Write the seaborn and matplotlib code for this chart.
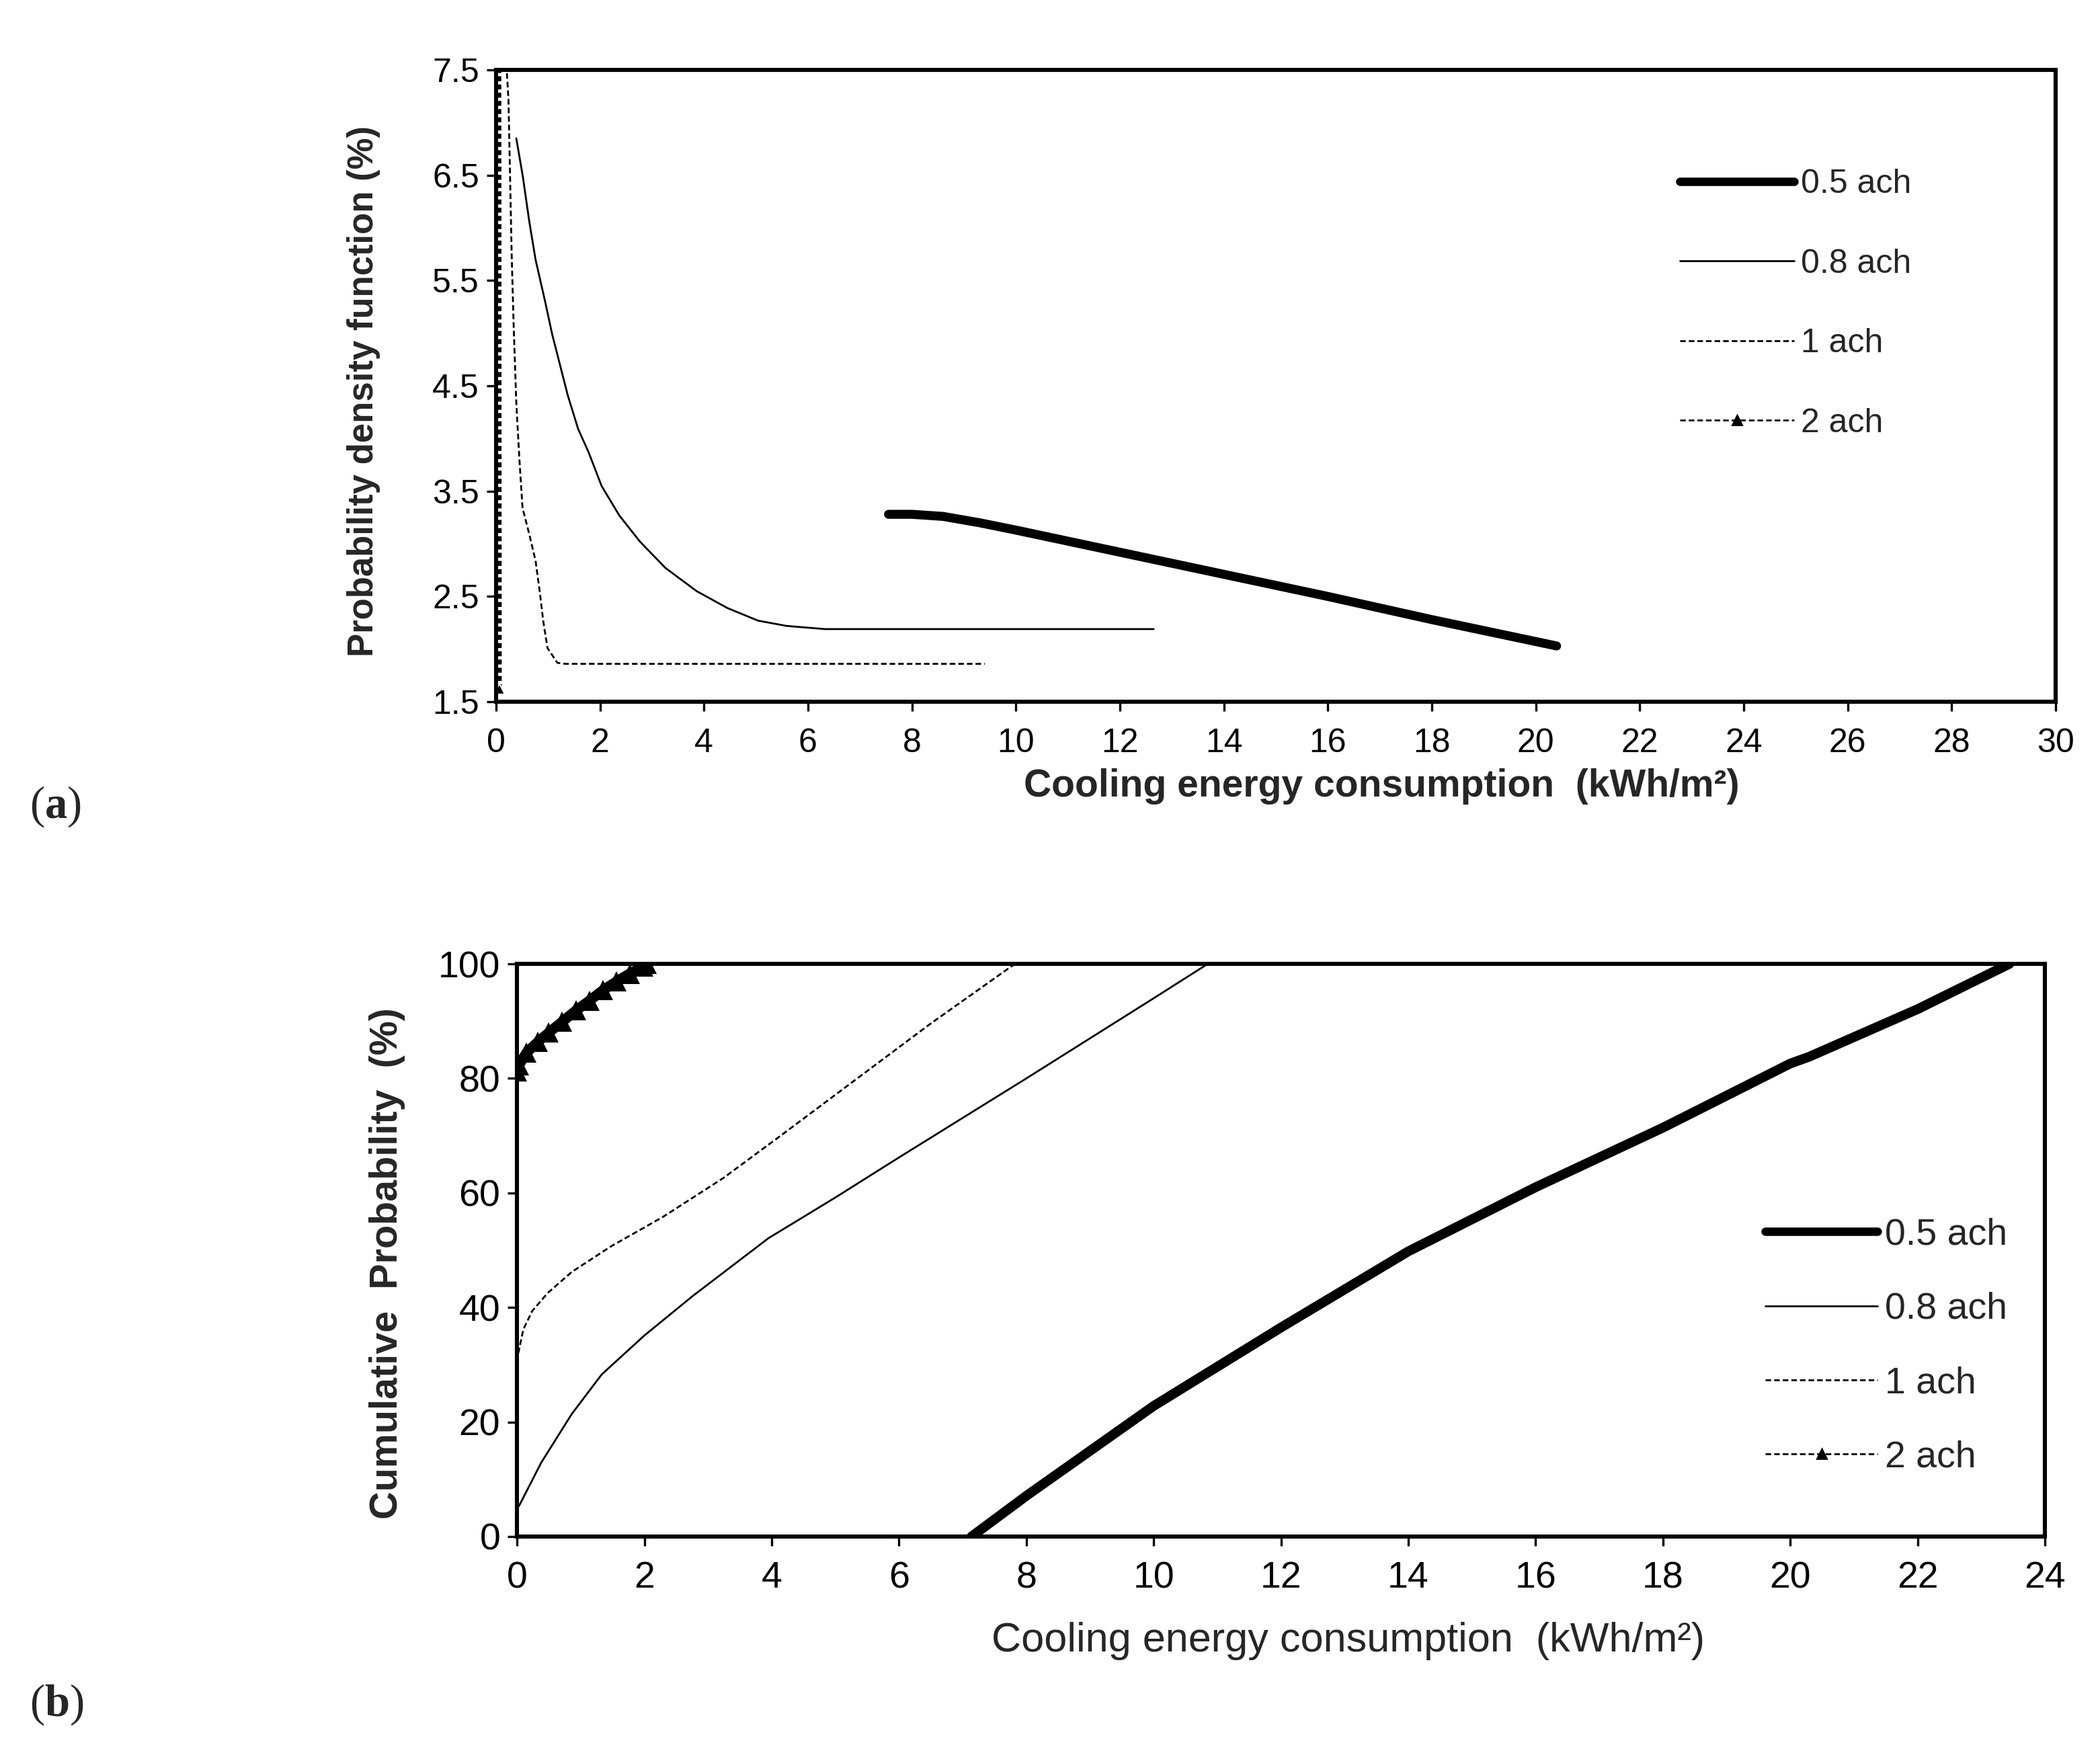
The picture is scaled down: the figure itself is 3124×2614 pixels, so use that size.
import matplotlib
matplotlib.use("Agg")
import matplotlib.pyplot as plt
from matplotlib.lines import Line2D
import seaborn as sns

# ---- panel (a): probability density function (%) ----
pdf_05_x = [7.55, 8.0, 8.6, 9.3, 10.0, 12.0, 14.0, 16.0, 18.0, 20.4]
pdf_05_y = [3.28, 3.28, 3.26, 3.20, 3.13, 2.92, 2.71, 2.50, 2.28, 2.03]

pdf_08_x = [0.39, 0.515, 0.64, 0.76, 0.94, 1.08, 1.23, 1.38, 1.58, 1.78, 2.03, 2.37,
            2.77, 3.26, 3.86, 4.45, 5.04, 5.59, 6.33, 7.62, 12.65]
pdf_08_y = [6.85, 6.49, 6.06, 5.70, 5.31, 4.99, 4.70, 4.41, 4.09, 3.87, 3.55, 3.27,
            3.02, 2.77, 2.55, 2.39, 2.27, 2.22, 2.19, 2.19, 2.19]

pdf_1_x = [0.20, 0.24, 0.27, 0.30, 0.34, 0.39, 0.45, 0.51, 0.64, 0.76, 0.84, 0.91,
           0.99, 1.18, 1.33, 9.40]
pdf_1_y = [7.55, 7.21, 6.49, 5.77, 5.06, 4.34, 3.80, 3.34, 3.09, 2.84, 2.55, 2.26,
           2.01, 1.87, 1.86, 1.86]

pdf_2_x = [0.07, 0.06]
pdf_2_y = [1.62, 9.0]

# ---- panel (b): cumulative probability (%) ----
cdf_05_x = [7.14, 8.0, 10.0, 12.0, 14.0, 16.0, 18.0, 20.0, 20.3, 22.0, 23.44]
cdf_05_y = [0.0, 7.1, 22.8, 36.5, 49.8, 61.0, 71.4, 82.6, 83.8, 92.1, 100.0]

cdf_08_x = [0.03, 0.38, 0.86, 1.33, 2.0, 2.76, 3.95, 5.0, 6.0, 8.0, 10.0, 10.85]
cdf_08_y = [5.3, 12.9, 21.4, 28.3, 35.1, 42.0, 52.1, 59.2, 66.2, 80.0, 94.0, 100.0]

cdf_1_x = [0.02, 0.10, 0.24, 0.48, 0.86, 1.48, 2.29, 3.24, 4.19, 5.26, 6.5, 7.82]
cdf_1_y = [32.0, 36.2, 39.4, 42.5, 46.2, 50.7, 55.8, 62.6, 70.4, 79.3, 89.6, 100.0]

cdf_2_x = [0.0, 0.03, 0.15, 0.33, 0.50, 0.71, 0.93, 1.14, 1.35, 1.56, 1.77, 1.98, 2.04]
cdf_2_y = [81.2, 82.3, 84.5, 86.4, 88.0, 89.9, 91.9, 93.6, 95.4, 96.9, 98.3, 99.5, 100.0]

labels = ["0.5 ach", "0.8 ach", "1 ach", "2 ach"]

sns.set_theme(style="white")
plt.rcParams["font.family"] = ["Liberation Sans", "DejaVu Sans"]
plt.rcParams["mathtext.fontset"] = "custom"
plt.rcParams["mathtext.rm"] = "Liberation Serif"
plt.rcParams["mathtext.bf"] = "Liberation Serif:bold"

fig = plt.figure(figsize=(15.62, 13.07), dpi=200)
ax_a = fig.add_axes([0.2362, 0.6006, 0.7427, 0.3596])
ax_b = fig.add_axes([0.2462, 0.1255, 0.7276, 0.3259])

dash1 = (3, 1.6)


def legend_handles():
    return [
        Line2D([], [], color="black", lw=4.5, solid_capstyle="round"),
        Line2D([], [], color="black", lw=1.0),
        Line2D([], [], color="black", lw=1.0, dashes=dash1),
        Line2D([], [], color="black", lw=1.0, dashes=dash1, marker="^", markersize=5),
    ]


# panel a
sns.lineplot(x=pdf_05_x, y=pdf_05_y, ax=ax_a, sort=False, estimator=None,
             color="black", lw=4.8, solid_capstyle="round")
sns.lineplot(x=pdf_08_x, y=pdf_08_y, ax=ax_a, sort=False, estimator=None,
             color="black", lw=1.0)
sns.lineplot(x=pdf_1_x, y=pdf_1_y, ax=ax_a, sort=False, estimator=None,
             color="black", lw=1.0, dashes=dash1)
sns.lineplot(x=pdf_2_x, y=pdf_2_y, ax=ax_a, sort=False, estimator=None,
             color="black", lw=2.2, dashes=(1.2, 0.8), marker="^", markersize=6)

ax_a.set_xlim(0, 30)
ax_a.set_ylim(1.5, 7.5)
ax_a.set_xticks(range(0, 31, 2))
ax_a.set_yticks([1.5, 2.5, 3.5, 4.5, 5.5, 6.5, 7.5])
ax_a.set_yticklabels(["1.5", "2.5", "3.5", "4.5", "5.5", "6.5", "7.5"])
ax_a.tick_params(axis="both", direction="out", length=5, width=1.2, labelsize=18,
                 colors="black", left=True, bottom=True)
ax_a.tick_params(axis="x", pad=9)
ax_a.tick_params(axis="y", pad=4)
ax_a.set_xlabel("Cooling energy consumption  (kWh/m\u00b2)", fontsize=20.5, fontweight="bold")
ax_a.set_ylabel("Probability density function (%)", fontsize=19, fontweight="bold")
ax_a.xaxis.label.set_va("center")
ax_a.yaxis.label.set_va("center")
ax_a.xaxis.set_label_coords(0.568, -0.134)
ax_a.yaxis.set_label_coords(-0.085, 0.491)
ax_a.legend(legend_handles(), labels, loc="center left", bbox_to_anchor=(0.759, 0.63),
            frameon=False, fontsize=18, handlelength=3.4, handletextpad=0.2,
            labelspacing=1.45, borderpad=0, borderaxespad=0, numpoints=1)

# panel b
sns.lineplot(x=cdf_05_x, y=cdf_05_y, ax=ax_b, sort=False, estimator=None,
             color="black", lw=5.2, solid_capstyle="round")
sns.lineplot(x=cdf_08_x, y=cdf_08_y, ax=ax_b, sort=False, estimator=None,
             color="black", lw=1.0)
sns.lineplot(x=cdf_1_x, y=cdf_1_y, ax=ax_b, sort=False, estimator=None,
             color="black", lw=1.0, dashes=dash1)
sns.lineplot(x=cdf_2_x, y=cdf_2_y, ax=ax_b, sort=False, estimator=None,
             color="black", lw=5.5, marker="^", markersize=11, markeredgewidth=0)

ax_b.set_xlim(0, 24)
ax_b.set_ylim(0, 100)
ax_b.set_xticks(range(0, 25, 2))
ax_b.set_yticks(range(0, 101, 20))
ax_b.tick_params(axis="both", direction="out", length=5, width=1.2, labelsize=20,
                 colors="black", left=True, bottom=True)
ax_b.tick_params(axis="x", pad=8)
ax_b.tick_params(axis="y", pad=4)
ax_b.set_xlabel("Cooling energy consumption  (kWh/m\u00b2)", fontsize=22)
ax_b.set_ylabel("Cumulative  Probability  (%)", fontsize=20.7, fontweight="bold")
ax_b.xaxis.label.set_va("center")
ax_b.yaxis.label.set_va("center")
ax_b.xaxis.set_label_coords(0.544, -0.183)
ax_b.yaxis.set_label_coords(-0.085, 0.477)
ax_b.legend(legend_handles(), labels, loc="center left", bbox_to_anchor=(0.817, 0.332),
            frameon=False, fontsize=20, handlelength=3.0, handletextpad=0.2,
            labelspacing=1.05, borderpad=0, borderaxespad=0, numpoints=1)

for ax in (ax_a, ax_b):
    for side in ["top", "right", "bottom", "left"]:
        ax.spines[side].set_visible(True)
        ax.spines[side].set_color("black")
        ax.spines[side].set_linewidth(2.2)

fig.text(0.014, 0.541, r"($\mathbf{a}$)", fontsize=24, va="center", ha="left",
         family="Liberation Serif")
fig.text(0.014, 0.030, r"($\mathbf{b}$)", fontsize=24, va="center", ha="left",
         family="Liberation Serif")

fig.savefig("out.png", dpi=200, facecolor="white")
